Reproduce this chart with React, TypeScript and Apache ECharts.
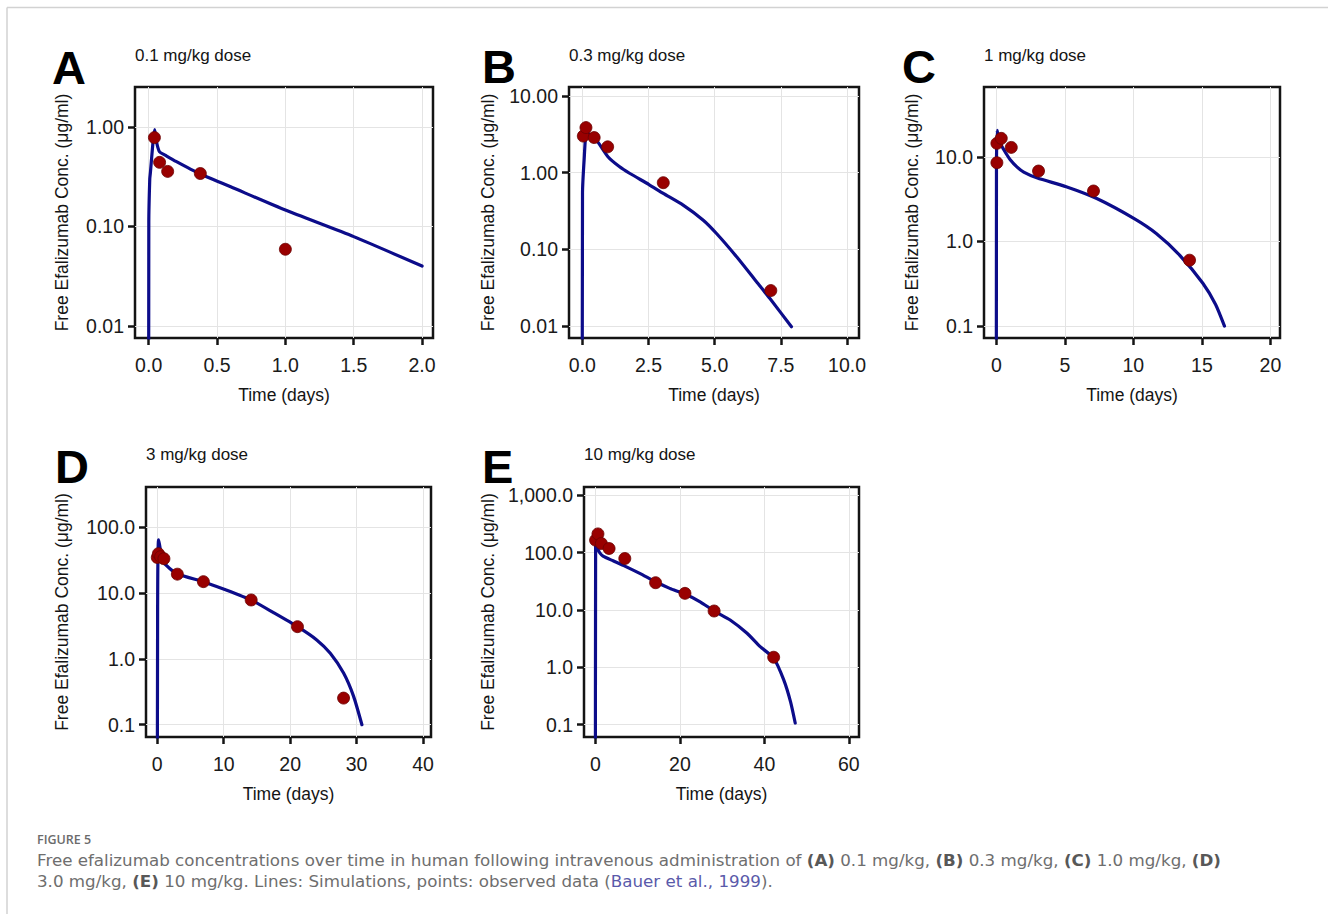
import React, { useEffect, useRef } from 'react';
import * as echarts from 'echarts';

type Pt = [number, number];

const FONT = '"Liberation Sans", Arial, Helvetica, sans-serif';
const CAPTION_FONT = '"DejaVu Sans", "Open Sans", sans-serif';
const LINE_COLOR = '#0c0c8a';
const POINT_COLOR = '#990000';
const INK = '#141414';

const panelLetters = ['A', 'B', 'C', 'D', 'E'];
const doseTitles = ['0.1 mg/kg dose', '0.3 mg/kg dose', '1 mg/kg dose', '3 mg/kg dose', '10 mg/kg dose'];
const xTitle = 'Time (days)';
const yTitle = 'Free Efalizumab Conc. (μg/ml)';

// ---- Simulated lines (x = days, y = µg/ml) ----
const simA: Pt[] = [
  [0, 0.0001], [0.001, 0.11], [0.008, 0.3], [0.012, 0.34], [0.044, 0.94], [0.06, 0.68],
  [0.08, 0.56], [0.12, 0.52], [0.2, 0.45], [0.37, 0.34], [0.6, 0.25], [1.0, 0.146],
  [1.5, 0.079], [2.0, 0.04],
];
const simB: Pt[] = [
  [0, 0.0001], [0.01, 0.54], [0.07, 1.45], [0.16, 3.5], [0.3, 3.0], [0.54, 2.65],
  [0.98, 1.6], [1.4, 1.2], [1.8, 0.975], [2.52, 0.7], [3.06, 0.536], [3.81, 0.377],
  [4.57, 0.24], [5.07, 0.161], [5.83, 0.08], [6.58, 0.0378], [7.08, 0.023], [7.9, 0.0098],
];
const simC: Pt[] = [
  [0, 0.001], [0.01, 8], [0.06, 20.5], [0.15, 17], [0.36, 13.7], [0.7, 11], [1.0, 9.3],
  [1.5, 7.6], [2.0, 6.6], [3.0, 5.6], [5.1, 4.43], [7.29, 3.23], [10.03, 1.87],
  [11.67, 1.24], [13.37, 0.69], [15.07, 0.32], [16.0, 0.18], [16.65, 0.1],
];
const simD: Pt[] = [
  [0, 0.001], [0.05, 6.2], [0.2, 65], [0.9, 30], [2.92, 20], [6.94, 15.0], [10.06, 11.5],
  [14.1, 7.9], [17.5, 5.06], [21.1, 3.1], [24.0, 1.95], [26.04, 1.22], [28.04, 0.61],
  [29.55, 0.27], [30.8, 0.1],
];
const simE: Pt[] = [
  [0, 0.001], [0.05, 150], [0.6, 115], [1.0, 100], [1.8, 86.9], [4.18, 72], [6.96, 58.2],
  [10.5, 43.4], [14.25, 31], [17.6, 23.8], [21.2, 19], [24.8, 13.9], [28.1, 9.6],
  [31.9, 6.7], [35.9, 3.93], [39.0, 2.3], [42.2, 1.45], [44.56, 0.61], [46.2, 0.25],
  [47.3, 0.107],
];

// ---- Observed data ----
const obsA: Pt[] = [[0.042, 0.78], [0.08, 0.44], [0.139, 0.357], [0.378, 0.34], [1.0, 0.059]];
const obsB: Pt[] = [[0.04, 3.0], [0.14, 3.87], [0.45, 2.87], [0.96, 2.17], [3.06, 0.74], [7.12, 0.029]];
const obsC: Pt[] = [[0.04, 14.4], [0.04, 8.5], [0.36, 16.5], [1.09, 12.9], [3.08, 6.78], [7.09, 3.94], [14.1, 0.6]];
const obsD: Pt[] = [[0.0, 35], [0.17, 40], [0.5, 36], [1.0, 33.5], [3.02, 19.5], [6.94, 15.0], [14.13, 7.9], [21.1, 3.1], [28.04, 0.254]];
const obsE: Pt[] = [[0.04, 165], [0.6, 212], [1.42, 144], [3.24, 118], [6.96, 79], [14.25, 29.9], [21.2, 19.5], [28.1, 9.6], [42.2, 1.5]];

// ---- Tick values ----
const xTicksA = [0, 0.5, 1, 1.5, 2];
const xTicksB = [0, 2.5, 5, 7.5, 10];
const xTicksC = [0, 5, 10, 15, 20];
const xTicksD = [0, 10, 20, 30, 40];
const xTicksE = [0, 20, 40, 60];
const yTicksA = [0.01, 0.1, 1];
const yTicksB = [0.01, 0.1, 1, 10];
const yTicksC = [0.1, 1, 10];
const yTicksD = [0.1, 1, 10, 100];
const yTicksE = [0.1, 1, 10, 100, 1000];

const sims = [simA, simB, simC, simD, simE];
const obs = [obsA, obsB, obsC, obsD, obsE];
const xTicks = [xTicksA, xTicksB, xTicksC, xTicksD, xTicksE];
const yTicks = [yTicksA, yTicksB, yTicksC, yTicksD, yTicksE];

// ---- Layout (pixels) ----
const layout = [
  { grid: { left: 135, top: 87, width: 298, height: 251 }, xRange: [-0.1, 2.08], yExp: [-2.12, 0.4], xDec: 1, yDec: 2, letterX: 52, letterY: 67.5, titleY: 55, yNameGap: 64 },
  { grid: { left: 569, top: 87, width: 290, height: 251 }, xRange: [-0.5, 10.45], yExp: [-2.156, 1.117], xDec: 1, yDec: 2, letterX: 482, letterY: 66.5, titleY: 55, yNameGap: 72 },
  { grid: { left: 984, top: 87, width: 296, height: 251 }, xRange: [-0.9, 20.7], yExp: [-1.141, 1.824], xDec: 0, yDec: 1, letterX: 902, letterY: 66.5, titleY: 55, yNameGap: 63.5 },
  { grid: { left: 146, top: 487, width: 285, height: 250 }, xRange: [-1.7, 41.2], yExp: [-1.187, 2.616], xDec: 0, yDec: 1, letterX: 55, letterY: 466, titleY: 454, yNameGap: 75.5 },
  { grid: { left: 584, top: 487, width: 275, height: 250 }, xRange: [-2.7, 62.4], yExp: [-1.214, 3.144], xDec: 0, yDec: 1, letterX: 482, letterY: 466, titleY: 454, yNameGap: 87 },
];

function buildOption() {
  const grids: any[] = [];
  const xAxes: any[] = [];
  const yAxes: any[] = [];
  const series: any[] = [];
  const graphics: any[] = [];

  layout.forEach((L, i) => {
    grids.push({
      ...L.grid,
      show: true,
      borderColor: INK,
      borderWidth: 2.5,
      backgroundColor: 'transparent',
      containLabel: false,
    });
    xAxes.push({
      type: 'value',
      gridIndex: i,
      min: L.xRange[0],
      max: L.xRange[1],
      axisLine: { show: false, onZero: false },
      axisTick: { show: true, length: 7, lineStyle: { color: INK, width: 2.5 }, customValues: xTicks[i] },
      axisLabel: {
        customValues: xTicks[i],
        margin: 17,
        fontSize: 19.5,
        color: '#1a1a1a',
        fontFamily: FONT,
        formatter: (v: number) => Number(v).toFixed(L.xDec),
      },
      splitLine: { show: true, lineStyle: { color: '#e4e4e4', width: 1 } },
      name: xTitle,
      nameLocation: 'middle',
      nameGap: 48,
      nameTextStyle: { fontSize: 17.5, color: INK, fontFamily: FONT },
    });
    yAxes.push({
      type: 'log',
      logBase: 10,
      gridIndex: i,
      min: Math.pow(10, L.yExp[0]),
      max: Math.pow(10, L.yExp[1]),
      axisLine: { show: false, onZero: false },
      axisTick: { show: true, length: 7, lineStyle: { color: INK, width: 2.5 }, customValues: yTicks[i] },
      axisLabel: {
        customValues: yTicks[i],
        margin: 11,
        fontSize: 19.5,
        color: '#1a1a1a',
        fontFamily: FONT,
        formatter: (v: number) =>
          Number(v).toLocaleString('en-US', { minimumFractionDigits: L.yDec, maximumFractionDigits: L.yDec }),
      },
      splitLine: { show: true, lineStyle: { color: '#e4e4e4', width: 1 } },
      minorSplitLine: { show: false },
      name: yTitle,
      nameLocation: 'middle',
      nameRotate: 90,
      nameGap: L.yNameGap,
      nameTextStyle: { fontSize: 17.5, color: INK, fontFamily: FONT },
    });
    series.push({
      type: 'line',
      name: 'Simulation ' + panelLetters[i],
      xAxisIndex: i,
      yAxisIndex: i,
      data: sims[i],
      showSymbol: false,
      symbol: 'none',
      clip: true,
      smooth: 0.2,
      lineStyle: { color: LINE_COLOR, width: 3.2, join: 'round', cap: 'round' },
      z: 2,
      silent: true,
    });
    series.push({
      type: 'scatter',
      name: 'Observed ' + panelLetters[i],
      xAxisIndex: i,
      yAxisIndex: i,
      data: obs[i],
      symbolSize: 12,
      itemStyle: { color: POINT_COLOR, borderColor: '#6a0000', borderWidth: 0.8, opacity: 1 },
      z: 3,
      silent: true,
    });
    graphics.push({
      type: 'text',
      x: L.letterX,
      y: L.letterY,
      style: {
        text: panelLetters[i],
        fill: '#000',
        fontSize: 47,
        fontWeight: 'bold',
        fontFamily: FONT,
        align: 'left',
        verticalAlign: 'middle',
        textAlign: 'left',
        textVerticalAlign: 'middle',
      },
    });
    graphics.push({
      type: 'text',
      x: L.grid.left,
      y: L.titleY,
      style: {
        text: doseTitles[i],
        fill: INK,
        fontSize: 17,
        fontFamily: FONT,
        align: 'left',
        verticalAlign: 'middle',
        textAlign: 'left',
        textVerticalAlign: 'middle',
      },
    });
  });

  // Figure frame
  graphics.push({
    type: 'line',
    shape: { x1: 7, y1: 7.5, x2: 1328, y2: 7.5 },
    style: { stroke: '#d2d2d2', lineWidth: 1.5 },
  });
  graphics.push({
    type: 'line',
    shape: { x1: 7, y1: 7.5, x2: 7, y2: 914 },
    style: { stroke: '#d2d2d2', lineWidth: 1.5 },
  });

  const CAP_SIZE = 16.7;
  const capRich = {
    n: { fontSize: CAP_SIZE, fontFamily: CAPTION_FONT, fill: '#6e6e6e', color: '#6e6e6e' },
    b: { fontSize: CAP_SIZE, fontFamily: CAPTION_FONT, fontWeight: 'bold', fill: '#585858', color: '#585858' },
    l: { fontSize: CAP_SIZE, fontFamily: CAPTION_FONT, fill: '#5a5aaa', color: '#5a5aaa' },
  };
  graphics.push({
    type: 'text',
    x: 37,
    y: 839,
    style: {
      text: 'FIGURE 5',
      fill: '#6b6b6b',
      fontSize: 12.5,
      fontWeight: 600,
      fontFamily: '"Open Sans", sans-serif',
      align: 'left',
      verticalAlign: 'middle',
      textAlign: 'left',
      textVerticalAlign: 'middle',
    },
  });
  graphics.push({
    type: 'text',
    x: 37,
    y: 860,
    style: {
      text:
        '{n|Free efalizumab concentrations over time in human following intravenous administration of }{b|(A)}{n| 0.1 mg/kg, }{b|(B)}{n| 0.3 mg/kg, }{b|(C)}{n| 1.0 mg/kg, }{b|(D)}',
      rich: capRich,
      align: 'left',
      verticalAlign: 'middle',
      textAlign: 'left',
      textVerticalAlign: 'middle',
    },
  });
  graphics.push({
    type: 'text',
    x: 37,
    y: 881,
    style: {
      text: '{n|3.0 mg/kg, }{b|(E)}{n| 10 mg/kg. Lines: Simulations, points: observed data (}{l|Bauer et al., 1999}{n|).}',
      rich: capRich,
      align: 'left',
      verticalAlign: 'middle',
      textAlign: 'left',
      textVerticalAlign: 'middle',
    },
  });

  return {
    animation: false,
    backgroundColor: '#ffffff',
    textStyle: { fontFamily: FONT },
    grid: grids,
    xAxis: xAxes,
    yAxis: yAxes,
    series,
    graphic: { elements: graphics },
  };
}

export default function App() {
  const ref = useRef<HTMLDivElement>(null);
  useEffect(() => {
    if (!ref.current) return;
    const chart = echarts.init(ref.current, undefined, { renderer: 'svg' });
    chart.setOption(buildOption() as any);
    return () => chart.dispose();
  }, []);
  return (
    <div
      ref={ref}
      style={{ position: 'fixed', left: 0, top: 0, width: 1328, height: 914, background: '#fff' }}
    />
  );
}
